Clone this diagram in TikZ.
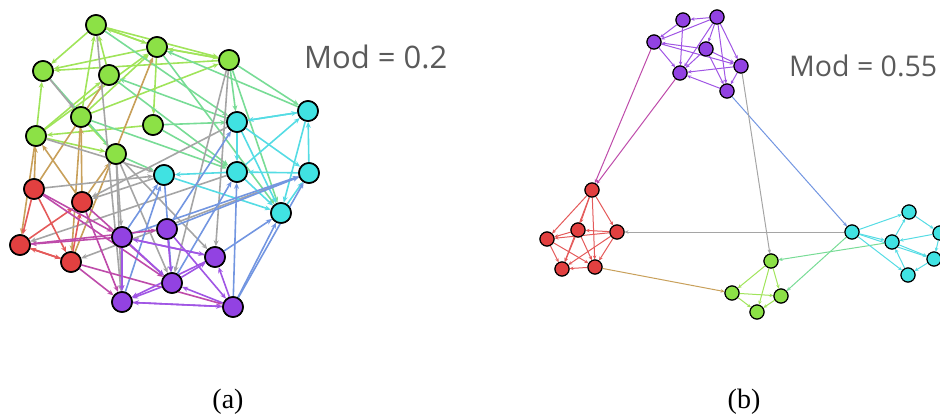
\documentclass[tikz,border=0pt]{standalone}
\usepackage{fontspec}
\newfontfamily\modfont{Open Sans}
\newfontfamily\capfont{Liberation Serif}
\usetikzlibrary{arrows.meta}
\definecolor{mygreen}{RGB}{140,225,70}
\definecolor{mycyan}{RGB}{64,226,226}
\definecolor{myred}{RGB}{226,64,64}
\definecolor{mypurple}{RGB}{146,66,226}
\definecolor{egreen}{RGB}{160,228,90}
\definecolor{emint}{RGB}{120,220,150}
\definecolor{etan}{RGB}{200,160,90}
\definecolor{egray}{RGB}{165,165,165}
\definecolor{ecyan}{RGB}{85,220,228}
\definecolor{eblue}{RGB}{115,150,225}
\definecolor{ered}{RGB}{228,90,90}
\definecolor{emag}{RGB}{190,75,170}
\definecolor{epurple}{RGB}{160,85,228}
\definecolor{modgray}{RGB}{90,90,90}
\tikzstyle{vertex}=[draw,circle,minimum size=20pt,inner sep=0pt,line width=1.6pt]
\tikzstyle{svertex}=[draw,circle,minimum size=14pt,inner sep=0pt,line width=1.1pt]
\tikzstyle{link}=[-{Stealth[length=6pt,width=5pt]},line width=1.6pt]
\tikzstyle{slink}=[-{Stealth[length=4pt,width=3.5pt]},line width=1pt]
\tikzstyle{modlabel}=[anchor=west,inner sep=0pt,text=modgray,font=\modfont\fontsize{31}{33}\selectfont]
\tikzstyle{caption}=[font=\capfont\fontsize{28}{30}\selectfont]

\begin{document}
\begin{tikzpicture}[x=1pt,y=-1pt]
\useasboundingbox (0,0) rectangle (940,418);
% (a) nodes
\draw (96,25) node [vertex,fill=mygreen] (g1) {};
\draw (157,47) node [vertex,fill=mygreen] (g2) {};
\draw (229,60) node [vertex,fill=mygreen] (g3) {};
\draw (43,71) node [vertex,fill=mygreen] (g4) {};
\draw (109,75) node [vertex,fill=mygreen] (g5) {};
\draw (81,117) node [vertex,fill=mygreen] (g6) {};
\draw (153,125) node [vertex,fill=mygreen] (g7) {};
\draw (36,136) node [vertex,fill=mygreen] (g8) {};
\draw (116,154) node [vertex,fill=mygreen] (g9) {};
\draw (308,111) node [vertex,fill=mycyan] (c1) {};
\draw (237,122) node [vertex,fill=mycyan] (c2) {};
\draw (237,172) node [vertex,fill=mycyan] (c3) {};
\draw (309,173) node [vertex,fill=mycyan] (c4) {};
\draw (164,175) node [vertex,fill=mycyan] (c5) {};
\draw (281,213) node [vertex,fill=mycyan] (c6) {};
\draw (34,189) node [vertex,fill=myred] (r1) {};
\draw (82,202) node [vertex,fill=myred] (r2) {};
\draw (20,245) node [vertex,fill=myred] (r3) {};
\draw (71,262) node [vertex,fill=myred] (r4) {};
\draw (122,237) node [vertex,fill=mypurple] (p1) {};
\draw (167,229) node [vertex,fill=mypurple] (p2) {};
\draw (215,257) node [vertex,fill=mypurple] (p3) {};
\draw (172,283) node [vertex,fill=mypurple] (p4) {};
\draw (122,302) node [vertex,fill=mypurple] (p5) {};
\draw (233,307) node [vertex,fill=mypurple] (p6) {};
% (a) edges
\draw[link,egreen] (g1) -- (g4);
\draw[link,egreen] (g2) -- (g1);
\draw[link,egreen] (g1) -- (g2);
\draw[link,egreen] (g2) -- (g3);
\draw[link,egreen] (g3) -- (g2);
\draw[link,egreen] (g2) -- (g4);
\draw[link,egreen] (g3) -- (g4);
\draw[link,egreen] (g8) -- (g4);
\draw[link,egreen] (g5) -- (g1);
\draw[link,egreen] (g6) -- (g1);
\draw[link,egreen] (g8) -- (g2);
\draw[link,egreen] (g8) -- (g5);
\draw[link,egreen] (g6) -- (g2);
\draw[link,egreen] (g6) -- (g9);
\draw[link,egreen] (g7) -- (g8);
\draw[link,egreen] (g8) -- (g9);
\draw[link,egreen] (g2) -- (g7);
\draw[link,egreen] (g6) -- (g3);
\draw[link,egreen] (g1) -- (g3);
\draw[link,emint] (g1) -- (c2);
\draw[link,emint] (g2) -- (c6);
\draw[link,emint] (g3) -- (c2);
\draw[link,emint] (g3) -- (c1);
\draw[link,emint] (g3) -- (c6);
\draw[link,emint] (c2) -- (g5);
\draw[link,emint] (g5) -- (c3);
\draw[link,emint] (g6) -- (c3);
\draw[link,emint] (g7) -- (c2);
\draw[link,emint] (g7) -- (c3);
\draw[link,emint] (g9) -- (c5);
\draw[link,emint] (c1) -- (g2);
\draw[link,emint] (g4) -- (g9);
\draw[link,etan] (r1) -- (g8);
\draw[link,etan] (g8) -- (r3);
\draw[link,etan] (r1) -- (g5);
\draw[link,etan] (r2) -- (g8);
\draw[link,etan] (r2) -- (g6);
\draw[link,etan] (g6) -- (r4);
\draw[link,etan] (r4) -- (g2);
\draw[link,etan] (r2) -- (g9);
\draw[link,egray] (g1) -- (p5);
\draw[link,egray] (g9) -- (p5);
\draw[link,egray] (g9) -- (p1);
\draw[link,egray] (g9) -- (p4);
\draw[link,egray] (g9) -- (p3);
\draw[link,egray] (g3) -- (p3);
\draw[link,egray] (g3) -- (p4);
\draw[link,egray] (g8) -- (c5);
\draw[link,egray] (g4) -- (g6);
\draw[link,egray] (r1) -- (c5);
\draw[link,egray] (c5) -- (r2);
\draw[link,egray] (c2) -- (r2);
\draw[link,egray] (c3) -- (r3);
\draw[link,egray] (c4) -- (r4);
\draw[link,ecyan] (c2) -- (c1);
\draw[link,ecyan] (c1) -- (c2);
\draw[link,ecyan] (c2) -- (c3);
\draw[link,ecyan] (c2) -- (c4);
\draw[link,ecyan] (c2) -- (c6);
\draw[link,ecyan] (c3) -- (c1);
\draw[link,ecyan] (c4) -- (c1);
\draw[link,ecyan] (c1) -- (c6);
\draw[link,ecyan] (c4) -- (c3);
\draw[link,ecyan] (c3) -- (c6);
\draw[link,ecyan] (c6) -- (c4);
\draw[link,ecyan] (c3) -- (c5);
\draw[link,ecyan] (c5) -- (c6);
\draw[link,eblue] (p1) -- (c5);
\draw[link,eblue] (p1) -- (c4);
\draw[link,eblue] (p2) -- (c2);
\draw[link,eblue] (p2) -- (c4);
\draw[link,eblue] (p3) -- (c6);
\draw[link,eblue] (p4) -- (c3);
\draw[link,eblue] (c5) -- (p4);
\draw[link,eblue] (p5) -- (c5);
\draw[link,eblue] (p6) -- (c6);
\draw[link,eblue] (p6) -- (c3);
\draw[link,eblue] (p6) -- (c4);
\draw[link,ered] (r1) -- (r3);
\draw[link,ered] (r1) -- (r4);
\draw[link,ered] (r3) -- (r2);
\draw[link,ered] (r4) -- (r2);
\draw[link,ered] (r3) -- (r4);
\draw[link,ered] (r4) -- (r3);
\draw[link,emag] (r1) -- (p4);
\draw[link,emag] (r2) -- (p5);
\draw[link,emag] (r2) -- (p4);
\draw[link,emag] (p1) -- (r3);
\draw[link,emag] (r3) -- (p2);
\draw[link,emag] (r4) -- (p5);
\draw[link,emag] (r4) -- (p6);
\draw[link,emag] (r1) -- (p1);
\draw[link,epurple] (p1) -- (p3);
\draw[link,epurple] (p3) -- (p1);
\draw[link,epurple] (p1) -- (p4);
\draw[link,epurple] (p1) -- (p5);
\draw[link,epurple] (p2) -- (p4);
\draw[link,epurple] (p2) -- (p6);
\draw[link,epurple] (p4) -- (p3);
\draw[link,epurple] (p3) -- (p5);
\draw[link,epurple] (p6) -- (p3);
\draw[link,epurple] (p4) -- (p5);
\draw[link,epurple] (p6) -- (p4);
\draw[link,epurple] (p5) -- (p6);
\draw[link,epurple] (p6) -- (p5);
% redraw (a) nodes on top
\foreach \n in {g1,g2,g3,g4,g5,g6,g7,g8,g9}
  \draw[line width=1.6pt,fill=mygreen] (\n) circle (10pt);
\foreach \n in {c1,c2,c3,c4,c5,c6}
  \draw[line width=1.6pt,fill=mycyan] (\n) circle (10pt);
\foreach \n in {r1,r2,r3,r4}
  \draw[line width=1.6pt,fill=myred] (\n) circle (10pt);
\foreach \n in {p1,p2,p3,p4,p5,p6}
  \draw[line width=1.6pt,fill=mypurple] (\n) circle (10pt);
\node[modlabel] (moda) at (304,57) {Mod = 0.2};
% (b) nodes
\draw (683,20) node [svertex,fill=mypurple] (q1) {};
\draw (717,17) node [svertex,fill=mypurple] (q2) {};
\draw (654,42) node [svertex,fill=mypurple] (q3) {};
\draw (706,49) node [svertex,fill=mypurple] (q4) {};
\draw (741,66) node [svertex,fill=mypurple] (q5) {};
\draw (680,73) node [svertex,fill=mypurple] (q6) {};
\draw (727,91) node [svertex,fill=mypurple] (q7) {};
\draw (592,190) node [svertex,fill=myred] (s1) {};
\draw (578,230) node [svertex,fill=myred] (s2) {};
\draw (617,232) node [svertex,fill=myred] (s3) {};
\draw (547,239) node [svertex,fill=myred] (s4) {};
\draw (562,269) node [svertex,fill=myred] (s5) {};
\draw (595,267) node [svertex,fill=myred] (s6) {};
\draw (852,232) node [svertex,fill=mycyan] (t1) {};
\draw (909,212) node [svertex,fill=mycyan] (t2) {};
\draw (892,242) node [svertex,fill=mycyan] (t3) {};
\draw (940,233) node [svertex,fill=mycyan] (t4) {};
\draw (934,259) node [svertex,fill=mycyan] (t5) {};
\draw (908,275) node [svertex,fill=mycyan] (t6) {};
\draw (771,261) node [svertex,fill=mygreen] (h1) {};
\draw (732,293) node [svertex,fill=mygreen] (h2) {};
\draw (781,296) node [svertex,fill=mygreen] (h3) {};
\draw (757,312) node [svertex,fill=mygreen] (h4) {};
% (b) edges
\draw[slink,epurple] (q2) -- (q1);
\draw[slink,epurple] (q1) -- (q3);
\draw[slink,epurple] (q1) -- (q6);
\draw[slink,epurple] (q2) -- (q3);
\draw[slink,epurple] (q2) -- (q4);
\draw[slink,epurple] (q2) -- (q6);
\draw[slink,epurple] (q2) -- (q7);
\draw[slink,epurple] (q2) -- (q5);
\draw[slink,epurple] (q3) -- (q6);
\draw[slink,epurple] (q4) -- (q3);
\draw[slink,epurple] (q4) -- (q5);
\draw[slink,epurple] (q4) -- (q6);
\draw[slink,epurple] (q4) -- (q7);
\draw[slink,epurple] (q5) -- (q6);
\draw[slink,epurple] (q5) -- (q7);
\draw[slink,epurple] (q7) -- (q6);
\draw[slink,epurple] (q3) -- (q5);
\draw[slink,emag] (q3) -- (s1);
\draw[slink,emag] (q6) -- (s1);
\draw[slink,eblue] (q7) -- (t1);
\draw[slink,egray] (q5) -- (h1);
\draw[slink,egray] (t1) -- (s3);
\draw[slink,etan] (s6) -- (h2);
\draw[slink,emint] (t3) -- (h1);
\draw[slink,emint] (t1) -- (h3);
\draw[slink,ered] (s1) -- (s2);
\draw[slink,ered] (s1) -- (s3);
\draw[slink,ered] (s1) -- (s4);
\draw[slink,ered] (s1) -- (s5);
\draw[slink,ered] (s1) -- (s6);
\draw[slink,ered] (s3) -- (s2);
\draw[slink,ered] (s2) -- (s4);
\draw[slink,ered] (s2) -- (s5);
\draw[slink,ered] (s2) -- (s6);
\draw[slink,ered] (s3) -- (s4);
\draw[slink,ered] (s3) -- (s5);
\draw[slink,ered] (s3) -- (s6);
\draw[slink,ered] (s4) -- (s5);
\draw[slink,ered] (s6) -- (s5);
\draw[slink,ered] (s4) -- (s6);
\draw[slink,ecyan] (t1) -- (t2);
\draw[slink,ecyan] (t1) -- (t3);
\draw[slink,ecyan] (t1) -- (t5);
\draw[slink,ecyan] (t1) -- (t6);
\draw[slink,ecyan] (t3) -- (t2);
\draw[slink,ecyan] (t2) -- (t4);
\draw[slink,ecyan] (t4) -- (t3);
\draw[slink,ecyan] (t6) -- (t3);
\draw[slink,ecyan] (t3) -- (t5);
\draw[slink,ecyan] (t5) -- (t6);
\draw[slink,ecyan] (t4) -- (t5);
\draw[slink,egreen] (h1) -- (h2);
\draw[slink,egreen] (h1) -- (h3);
\draw[slink,egreen] (h1) -- (h4);
\draw[slink,egreen] (h2) -- (h3);
\draw[slink,egreen] (h2) -- (h4);
\draw[slink,egreen] (h3) -- (h4);
% redraw (b) nodes on top
\foreach \n in {q1,q2,q3,q4,q5,q6,q7}
  \draw[line width=1.1pt,fill=mypurple] (\n) circle (7pt);
\foreach \n in {s1,s2,s3,s4,s5,s6}
  \draw[line width=1.1pt,fill=myred] (\n) circle (7pt);
\foreach \n in {t1,t2,t3,t4,t5,t6}
  \draw[line width=1.1pt,fill=mycyan] (\n) circle (7pt);
\foreach \n in {h1,h2,h3,h4}
  \draw[line width=1.1pt,fill=mygreen] (\n) circle (7pt);
\node[modlabel,font=\modfont\fontsize{28.5}{30}\selectfont] (modb) at (789,66) {Mod = 0.55};
% captions
\node[caption] (capa) at (228,402) {(a)};
\node[caption] (capb) at (744,402) {(b)};
\end{tikzpicture}
\end{document}
